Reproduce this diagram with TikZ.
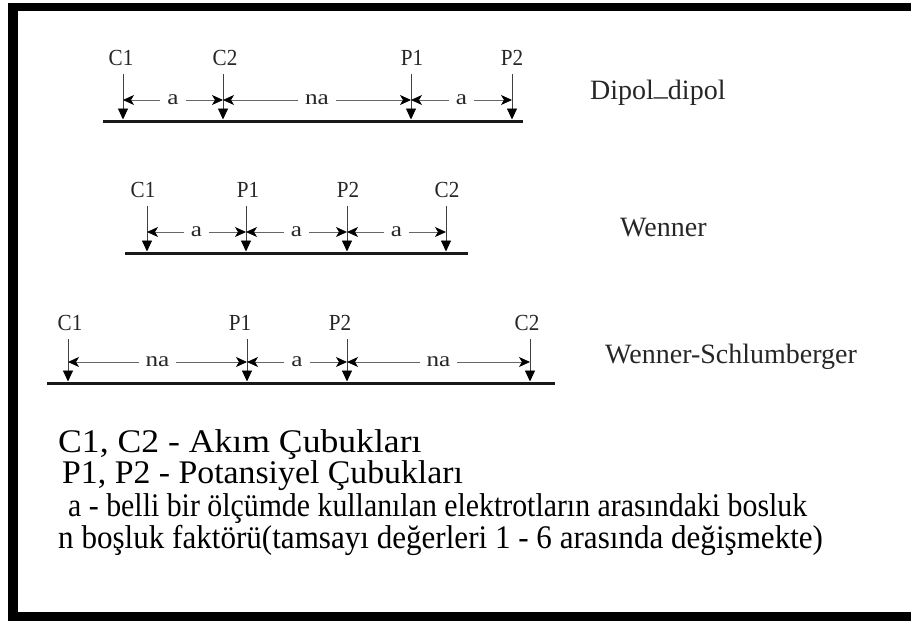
\documentclass[tikz,border=0pt]{standalone}
\usepackage{fontspec}
\setmainfont{Liberation Serif}
\newfontfamily\dimfont[FakeStretch=1.2]{Liberation Serif}
\newfontfamily\labfont[FakeStretch=0.92]{Liberation Serif}
\usetikzlibrary{arrows.meta}
\begin{document}
\begin{tikzpicture}[x=1pt,y=-1pt,
  lab/.style={font=\labfont\fontsize{23}{26}\selectfont, inner sep=0pt, text=black!85},
  dimtxt/.style={font=\dimfont\fontsize{21}{24}\selectfont, fill=white, inner xsep=7pt, inner ysep=1pt, text=black!85},
  ground/.style={line width=3.5pt, draw=black!90},
  rod/.style={line width=0.9pt, draw=black!75, shorten <=8pt, -{Triangle[width=10pt,length=11pt,color=black]}},
  dim/.style={line width=0.8pt, draw=black!60, {Stealth[width=10pt,length=11pt,inset=3pt,color=black]}-{Stealth[width=10pt,length=11pt,inset=3pt,color=black]}},
  title/.style={font=\fontsize{28}{32}\selectfont, anchor=west, inner sep=0pt, text=black!85},
  note/.style={font=\fontsize{33}{36}\selectfont, anchor=base west, inner sep=0pt},
  frame/.style={fill=black}
]
\useasboundingbox (0,0) rectangle (911,621);
% frame
\fill[frame] (8,3) rectangle (18,621);
\fill[frame] (8,3) rectangle (911,11);
\fill[frame] (8,612) rectangle (911,621);

% ---------- Dipol-dipol ----------
\node[lab] (a1) at (121,58) {C1};
\node[lab] (a2) at (225,58) {C2};
\node[lab] (a3) at (412,58) {P1};
\node[lab] (a4) at (512,58) {P2};
\coordinate (ga1) at (123,119.5);
\coordinate (ga2) at (223,119.5);
\coordinate (ga3) at (411,119.5);
\coordinate (ga4) at (512,119.5);
\coordinate (gaL) at (103,121.5);
\coordinate (gaR) at (523,121.5);
\draw[ground] (gaL) -- (gaR);
\draw[rod] (a1.south -| ga1) -- (ga1);
\draw[rod] (a2.south -| ga2) -- (ga2);
\draw[rod] (a3.south -| ga3) -- (ga3);
\draw[rod] (a4.south -| ga4) -- (ga4);
\coordinate (da1) at (123,100);
\coordinate (da2) at (223,100);
\coordinate (da3) at (411,100);
\coordinate (da4) at (512,100);
\draw[dim] (da1) -- node[dimtxt] {a} (da2);
\draw[dim] (da2) -- node[dimtxt] {na} (da3);
\draw[dim] (da3) -- node[dimtxt] {a} (da4);
\node[title] (t1) at (590,93) {Dipol\raisebox{4pt}{\_}dipol};

% ---------- Wenner ----------
\node[lab] (b1) at (143,190) {C1};
\node[lab] (b2) at (248,190) {P1};
\node[lab] (b3) at (348,190) {P2};
\node[lab] (b4) at (447,190) {C2};
\coordinate (gb1) at (147,251.5);
\coordinate (gb2) at (246,251.5);
\coordinate (gb3) at (347,251.5);
\coordinate (gb4) at (446,251.5);
\coordinate (gbL) at (125,253.5);
\coordinate (gbR) at (468,253.5);
\draw[ground] (gbL) -- (gbR);
\draw[rod] (b1.south -| gb1) -- (gb1);
\draw[rod] (b2.south -| gb2) -- (gb2);
\draw[rod] (b3.south -| gb3) -- (gb3);
\draw[rod] (b4.south -| gb4) -- (gb4);
\coordinate (db1) at (147,232);
\coordinate (db2) at (246,232);
\coordinate (db3) at (347,232);
\coordinate (db4) at (446,232);
\draw[dim] (db1) -- node[dimtxt] {a} (db2);
\draw[dim] (db2) -- node[dimtxt] {a} (db3);
\draw[dim] (db3) -- node[dimtxt] {a} (db4);
\node[title] (t2) at (620,228) {Wenner};

% ---------- Wenner-Schlumberger ----------
\node[lab] (c1) at (70,323) {C1};
\node[lab] (c2) at (240,323) {P1};
\node[lab] (c3) at (340,323) {P2};
\node[lab] (c4) at (527,323) {C2};
\coordinate (gc1) at (68,381.5);
\coordinate (gc2) at (247,381.5);
\coordinate (gc3) at (347,381.5);
\coordinate (gc4) at (530,381.5);
\coordinate (gcL) at (47,383.5);
\coordinate (gcR) at (555,383.5);
\draw[ground] (gcL) -- (gcR);
\draw[rod] (c1.south -| gc1) -- (gc1);
\draw[rod] (c2.south -| gc2) -- (gc2);
\draw[rod] (c3.south -| gc3) -- (gc3);
\draw[rod] (c4.south -| gc4) -- (gc4);
\coordinate (dc1) at (68,362);
\coordinate (dc2) at (247,362);
\coordinate (dc3) at (347,362);
\coordinate (dc4) at (530,362);
\draw[dim] (dc1) -- node[dimtxt] {na} (dc2);
\draw[dim] (dc2) -- node[dimtxt] {a} (dc3);
\draw[dim] (dc3) -- node[dimtxt] {na} (dc4);
\node[title] (t3) at (605,357) {Wenner-Schlumberger};

% ---------- legend ----------
\node[note] (n1) at (58,452) {\scalebox{1.08}[1]{C1, C2 - Akım Çubukları}};
\node[note] (n2) at (62,483) {\scalebox{1.024}[1]{P1, P2 - Potansiyel Çubukları}};
\node[note] (n3) at (68,516) {\scalebox{0.904}[1]{a - belli bir ölçümde kullanılan elektrotların arasındaki bosluk}};
\node[note] (n4) at (58,548) {\scalebox{0.942}[1]{n boşluk faktörü(tamsayı değerleri 1 - 6 arasında değişmekte)}};
\end{tikzpicture}
\end{document}
